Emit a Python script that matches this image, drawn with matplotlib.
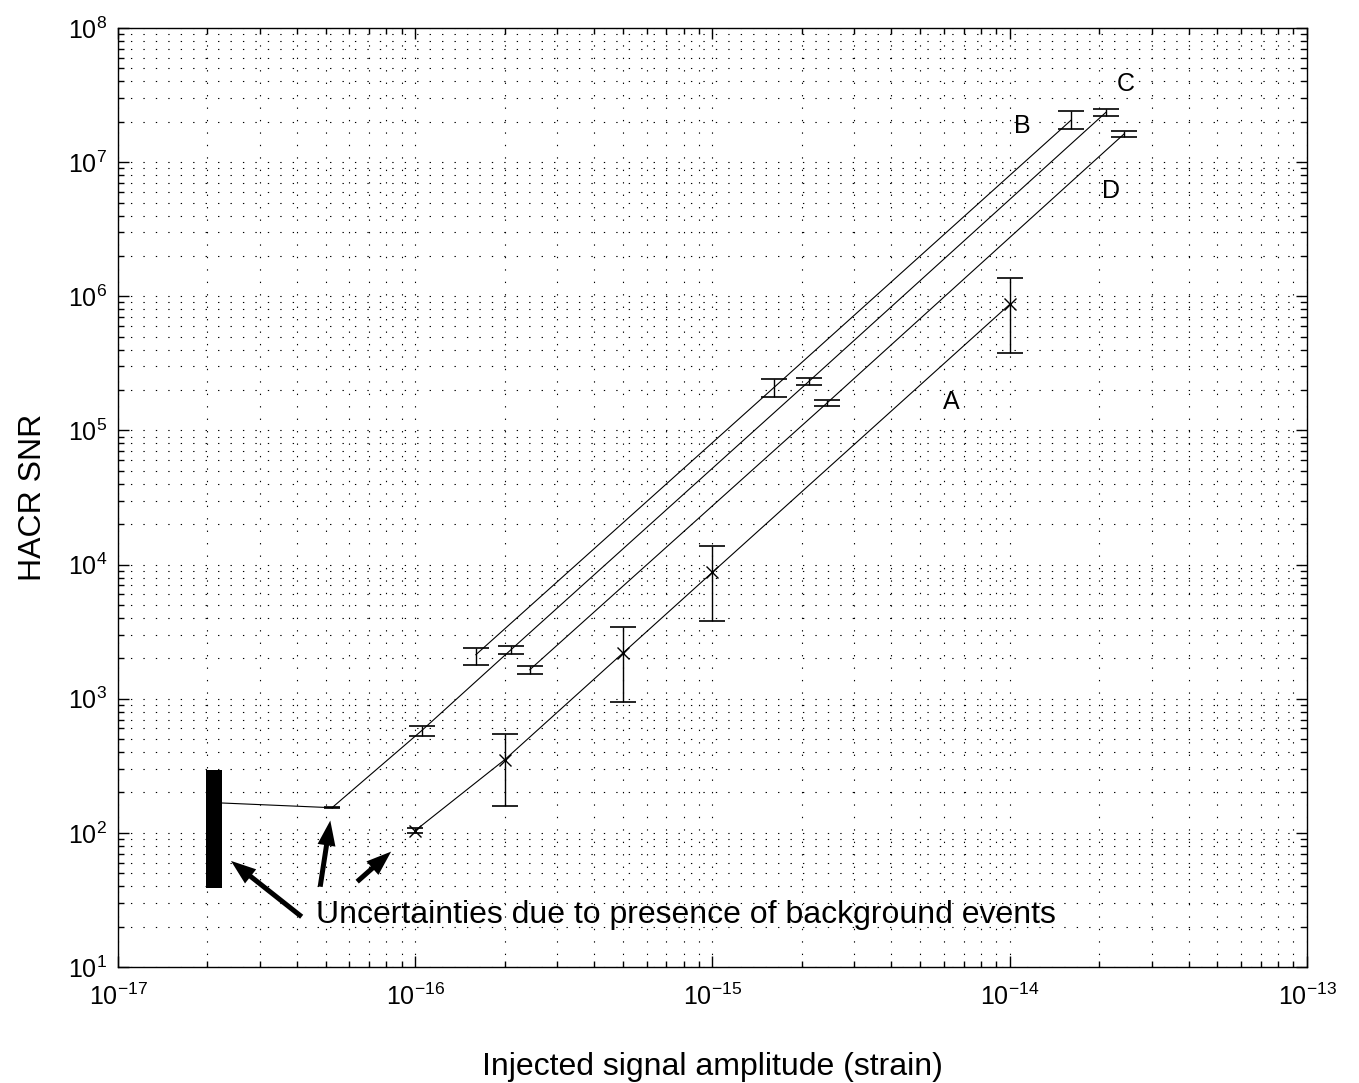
import matplotlib
matplotlib.use('Agg')
import matplotlib.pyplot as plt
import numpy as np

plt.rcParams['font.family'] = ['Liberation Sans', 'DejaVu Sans']
plt.rcParams['mathtext.default'] = 'regular'

# series A (x markers)
a_x = [1e-16, 2e-16, 5e-16, 1e-15, 1e-14]
a_y = [104, 351, 2193, 8770, 8.71e5]
a_lo = [100, 159, 944, 3820, 3.76e5]
a_hi = [108, 548, 3404, 13860, 1.36e6]

# series B
b_x = [1.6e-16, 1.61e-15, 1.61e-14]
b_y = [2130, 2.09e5, 2.06e7]
b_lo = [1794, 1.78e5, 1.78e7]
b_hi = [2400, 2.40e5, 2.41e7]

# series C (starts from the background point)
c_x = [5.25e-17, 1.05e-16, 2.1e-16, 2.11e-15, 2.11e-14]
c_y = [154, 577, 2320, 2.32e5, 2.36e7]
c_lo = [152, 529, 2167, 2.18e5, 2.21e7]
c_hi = [156, 621, 2456, 2.44e5, 2.49e7]

# series D
d_x = [2.43e-16, 2.42e-15, 2.43e-14]
d_y = [1646, 1.59e5, 1.63e7]
d_lo = [1537, 1.52e5, 1.55e7]
d_hi = [1742, 1.68e5, 1.71e7]

# background-events uncertainty band
bg_x = [1.98e-17, 2.24e-17]
bg_lo = 39
bg_hi = 295
bg_y = 167

fig = plt.figure(figsize=(13.59, 10.83), dpi=100)
ax = fig.add_axes([0.0868, 0.1071, 0.8749, 0.867])
ax.set_xscale('log')
ax.set_yscale('log')

line_kw = dict(color='k', linewidth=0.8)
err_kw = dict(fmt='none', ecolor='k', elinewidth=1.0, capthick=1.2)


def draw_series(x, y, lo, hi, small_first=False, marker=None):
    x = np.array(x)
    y = np.array(y)
    yerr = np.array([y - np.array(lo), np.array(hi) - y])
    ax.plot(x, y, **line_kw)
    if marker:
        ax.plot(x, y, linestyle='none', marker=marker, color='k',
                markersize=9, markeredgewidth=1.0)
    start = 1 if small_first else 0
    if small_first:
        ax.errorbar(x[:1], y[:1], yerr=yerr[:, :1], capsize=5.8, **err_kw)
    ax.errorbar(x[start:], y[start:], yerr=yerr[:, start:], capsize=9.4, **err_kw)


draw_series(a_x, a_y, a_lo, a_hi, small_first=True, marker='x')
draw_series(b_x, b_y, b_lo, b_hi)
draw_series(c_x, c_y, c_lo, c_hi, small_first=True)
draw_series(d_x, d_y, d_lo, d_hi)

# link from background band to series C
ax.plot([bg_x[1], c_x[0]], [bg_y, c_y[0]], **line_kw)
ax.fill_between(bg_x, bg_lo, bg_hi, color='k', linewidth=0)

# series labels
ax.text(1.106e-14, 1.86e7, 'B', fontsize=18, ha='center', va='center')
ax.text(2.46e-14, 3.82e7, 'C', fontsize=18, ha='center', va='center')
ax.text(2.19e-14, 6.08e6, 'D', fontsize=18, ha='center', va='center')
ax.text(6.38e-15, 1.64e5, 'A', fontsize=18, ha='center', va='center')

# arrows + annotation
arrow_kw = dict(arrowstyle='simple,head_length=18,head_width=13,tail_width=3.6',
                mutation_scale=1, color='k', lw=0, shrinkA=0, shrinkB=0)
ax.annotate('', xy=(2.40e-17, 61.8), xytext=(4.15e-17, 23.7), arrowprops=arrow_kw)
ax.annotate('', xy=(5.18e-17, 123.6), xytext=(4.79e-17, 39.7), arrowprops=arrow_kw)
ax.annotate('', xy=(8.30e-17, 72.5), xytext=(6.38e-17, 43.3), arrowprops=arrow_kw)
ax.text(4.64e-17, 24.4, 'Uncertainties due to presence of background events',
        fontsize=23, ha='left', va='center')

ax.set_xlim(1e-17, 1e-13)
ax.set_ylim(1e1, 1e8)

ax.grid(True, which='both', color='k', linewidth=0.8, linestyle=(0, (1.2, 10)))
ax.tick_params(which='both', direction='in', top=True, right=True, width=1.0)
ax.tick_params(which='major', length=8, labelsize=18)
ax.tick_params(axis='x', which='major', pad=12)
ax.tick_params(axis='y', which='major', pad=8)
ax.tick_params(which='minor', length=4.5)
for s in ax.spines.values():
    s.set_linewidth(1.0)

ax.set_xlabel('Injected signal amplitude (strain)', fontsize=23, labelpad=30)
ax.set_ylabel('HACR SNR', fontsize=23, labelpad=14)

fig.savefig('out.png', dpi=100)
